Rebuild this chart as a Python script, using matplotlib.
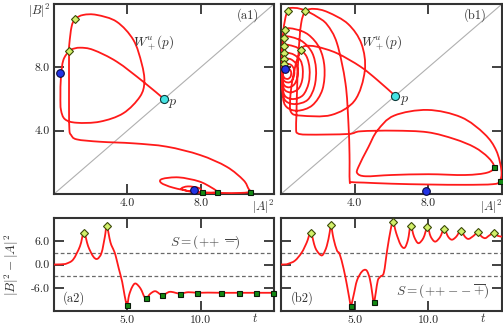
import numpy as np
import matplotlib
matplotlib.use("Agg")
import matplotlib.pyplot as plt
from matplotlib.path import Path
from matplotlib.patches import PathPatch

plt.rcParams['font.family'] = 'cmr10'
plt.rcParams['mathtext.fontset'] = 'cm'
plt.rcParams['axes.unicode_minus'] = False

# ---- (a1) unstable manifold, |A|^2 vs |B|^2
a1_x = [6.0, 4.87, 3.42, 2.14, 1.42, 0.96, 0.82, 0.51, 0.38, 0.35, 0.38, 0.6, 1.24, 2.51,
        3.78, 4.69, 4.93, 4.78, 4.33, 3.42, 2.33, 1.6, 1.15, 0.96, 0.84, 0.82, 0.82, 0.82,
        0.84, 0.93, 1.24, 2.51, 4.33, 6.15, 7.97, 9.42, 10.33, 10.6, 10.7, 10.2, 9.0, 7.6,
        6.5, 5.85, 5.9, 6.8, 7.9, 8.6, 8.87, 8.4, 7.5, 6.95, 7.3, 7.9, 8.06, 7.8, 7.64]
a1_y = [6.0, 7.09, 8.36, 9.10, 9.24, 9.14, 9.03, 8.46, 7.41, 6.15, 5.31, 4.72, 4.5, 4.57,
        5.1, 6.15, 7.09, 8.25, 9.73, 10.88, 11.31, 11.31, 11.05, 10.57, 9.52, 8.9, 6.99, 5.31,
        4.04, 3.73, 3.45, 3.3, 3.2, 2.99, 2.46, 1.72, 0.88, 0.35, 0.14, 0.07, 0.07, 0.15,
        0.4, 0.7, 0.95, 1.05, 0.8, 0.4, 0.14, 0.07, 0.14, 0.33, 0.48, 0.38, 0.14, 0.17, 0.23]
a1_max = [(0.82, 9.03), (1.15, 11.05)]
a1_min = [(10.7, 0.15), (8.87, 0.15), (8.06, 0.15)]
a1_eq = [(0.31, 7.62), (7.64, 0.23)]
a1_p = (6.0, 6.0)

# ---- (b1)
b1_x = [6.2, 5.23, 4.32, 3.04, 1.95, 1.31, 1.1, 0.85, 0.62, 0.5, 0.55, 1.09, 2.73, 4.0,
        4.55, 4.37, 3.64, 2.55, 1.82, 1.33, 1.09, 0.95, 0.87, 0.84, 0.82, 0.91, 1.46, 3.64,
        4.32, 6.14, 7.96, 9.42, 10.51, 11.24, 11.57, 11.2, 10.0, 8.0, 6.0, 4.6, 4.15, 4.2,
        4.74, 5.23, 6.14, 7.96, 9.78, 11.05, 11.69, 11.97, 11.87, 11.5, 10.0, 8.0, 6.0, 4.5,
        3.85, 3.73, 3.72, 3.66, 3.5, 3.04, 2.5, 1.95, 1.3, 0.75, 0.36,
        # spiral towards the left equilibrium
        0.12, 0.08, 0.1, 0.3, 0.9, 1.7, 2.25, 2.36, 2.1, 1.5, 0.8, 0.24,
        0.1, 0.07, 0.1, 0.28, 0.8, 1.45, 1.82, 1.9, 1.7, 1.2, 0.6, 0.18,
        0.08, 0.06, 0.09, 0.25, 0.7, 1.2, 1.5, 1.55, 1.38, 0.95, 0.45, 0.15,
        0.07, 0.06, 0.09, 0.22, 0.55, 0.95, 1.15, 1.18, 1.05, 0.7, 0.35, 0.15,
        0.07, 0.06, 0.1, 0.22, 0.45, 0.72, 0.88, 0.9, 0.8, 0.55, 0.3, 0.15,
        0.08, 0.07, 0.12, 0.25, 0.45, 0.62, 0.72, 0.7, 0.55, 0.3, 0.15,
        0.09, 0.1, 0.2, 0.38, 0.52, 0.55, 0.45, 0.3, 0.22]
b1_y = [6.2, 7.2, 8.04, 8.89, 9.3, 9.35, 9.1, 8.4, 7.2, 6.0, 5.16, 4.95, 4.99, 5.9,
        7.79, 9.48, 10.74, 11.48, 11.69, 11.54, 10.74, 8.84, 6.53, 5.05, 4.1, 3.83, 3.75, 3.79,
        3.96, 4.0, 3.9, 3.47, 2.95, 2.32, 1.72, 1.35, 1.2, 1.25, 1.2, 1.12, 1.3, 1.7,
        2.95, 4.0, 4.95, 5.31, 4.85, 3.79, 2.74, 1.47, 0.8, 0.62, 0.58, 0.6, 0.65, 0.72,
        0.75, 0.84, 2.5, 4.5, 7.0, 9.52, 10.7, 11.2, 11.6, 11.75, 11.58,
        10.2, 8.0, 6.2, 5.5, 5.26, 5.6, 6.6, 8.0, 9.2, 10.05, 10.4, 10.38,
        9.4, 7.8, 6.4, 5.85, 5.68, 5.95, 6.8, 7.9, 8.9, 9.6, 9.9, 9.88,
        9.0, 7.8, 6.7, 6.15, 6.0, 6.25, 7.0, 7.9, 8.7, 9.2, 9.4, 9.37,
        8.7, 7.8, 6.95, 6.55, 6.42, 6.65, 7.2, 7.9, 8.45, 8.8, 8.92, 8.89,
        8.4, 7.8, 7.1, 6.82, 6.74, 6.92, 7.35, 7.85, 8.25, 8.5, 8.56, 8.53,
        8.2, 7.7, 7.25, 7.08, 7.05, 7.2, 7.55, 7.9, 8.15, 8.24, 8.21,
        7.95, 7.55, 7.32, 7.27, 7.42, 7.7, 7.9, 7.95, 7.88]
b1_max = [(1.1, 9.1), (1.33, 11.54), (0.36, 11.58), (0.24, 10.38), (0.18, 9.88),
          (0.15, 9.37), (0.15, 8.89), (0.15, 8.53), (0.15, 8.21)]
b1_min = [(11.57, 1.72), (11.87, 0.8)]
b1_eq = [(0.22, 7.88), (7.9, 0.2)]
b1_p = (6.2, 6.2)

# ---- (a2) time series |B|^2 - |A|^2
a2_t = [0, 0.3, 0.6, 0.86, 1.31, 1.77, 2.04, 2.33, 2.67, 2.95, 3.24, 3.47, 3.6, 3.85, 4.08,
        4.2, 4.42, 4.65, 4.81, 4.98, 5.12, 5.33, 5.56, 5.9, 6.24, 6.58, 6.92, 7.39, 7.9,
        8.57, 9.15, 9.75, 10.5, 11.4, 12.6, 13.8, 15.0]
a2_v = [0, 0.02, 0.08, 0.25, 1.3, 4.7, 8.2, 4.7, 2.1, 1.45, 3.0, 7.2, 9.9, 5.7, 3.6,
        2.3, -1.1, -4.5, -7.9, -10.5, -7.9, -5.8, -4.9, -6.2, -8.7, -7.5, -6.9, -7.9, -7.05,
        -7.5, -7.15, -7.3, -7.25, -7.3, -7.3, -7.3, -7.3]
a2_max = [(2.04, 8.2), (3.6, 9.9)]
a2_min = [(4.98, -10.5), (6.24, -8.7), (7.39, -7.9), (8.57, -7.5), (9.75, -7.3),
          (11.4, -7.3), (12.6, -7.3), (13.8, -7.3), (14.95, -7.3)]

# ---- (b2)
b2_t = [0, 0.3, 0.5, 0.95, 1.41, 1.75, 2.02, 2.32, 2.61, 2.84, 3.11, 3.3, 3.39, 3.57, 3.8,
        3.98, 4.25, 4.48, 4.64, 4.75, 4.93, 5.16, 5.5, 5.8, 6.03, 6.18, 6.3, 6.44, 6.57,
        6.75, 6.98, 7.21, 7.44, 7.6, 7.82, 8.12, 8.39, 8.62, 8.8, 9.03, 9.32, 9.66, 9.94,
        10.16, 10.46, 10.8, 11.07, 11.34, 11.6, 11.9, 12.2, 12.48, 12.73, 13.07, 13.35,
        13.62, 13.87, 14.14, 14.44, 14.71, 15.0]
b2_v = [0, 0.03, 0.2, 1.0, 3.1, 5.7, 8.1, 4.4, 2.7, 2.5, 4.8, 8.2, 10.1, 6.6, 3.6,
        2.7, -1.1, -5.4, -8.8, -10.6, -7.9, -4.1, -1.8, -1.5, -3.7, -7.1, -9.8, -7.1, -4.1,
        -3.1, -2.1, 3.8, 8.9, 11.05, 8.1, 5.1, 4.3, 6.4, 10.0, 7.2, 5.5, 6.8, 9.6,
        7.2, 5.9, 7.1, 9.2, 7.2, 6.4, 7.2, 8.75, 7.2, 6.6, 7.4, 8.3,
        7.2, 6.8, 7.5, 8.1, 7.4, 7.2]
b2_max = [(2.02, 8.1), (3.39, 10.1), (7.6, 11.05), (8.8, 10.0), (9.94, 9.6), (11.07, 9.2),
          (12.2, 8.75), (13.35, 8.3), (14.44, 8.1)]
b2_min = [(4.75, -10.6), (6.3, -9.8)]

dash_levels = [3, -3]
top_ticks = [4, 8]
top_ticklabels = ['4.0', '8.0']
bot_xticks = [5, 10]
bot_xticklabels = ['5.0', '10.0']
bot_yticks = [6, 0, -6]
bot_yticklabels = ['6.0', '0.0', '-6.0']

RED = '#ff1a1a'
SPINE = '#333333'


def smooth_path(xs, ys):
    # Catmull-Rom through the read points, drawn as cubic Bezier segments
    pts = np.column_stack([xs, ys]).astype(float)
    ext = np.vstack([pts[0], pts, pts[-1]])
    verts = [pts[0]]
    codes = [Path.MOVETO]
    for i in range(len(pts) - 1):
        p0, p1, p2, p3 = ext[i], ext[i + 1], ext[i + 2], ext[i + 3]
        verts += [p1 + (p2 - p0) / 6, p2 - (p3 - p1) / 6, p2]
        codes += [Path.CURVE4] * 3
    return Path(verts, codes)


def draw_curve(ax, xs, ys):
    ax.add_patch(PathPatch(smooth_path(xs, ys), fill=False, ec=RED, lw=1.3, zorder=3,
                           capstyle='round', joinstyle='round'))


def markers(ax, pts, kind):
    xs = [p[0] for p in pts]
    ys = [p[1] for p in pts]
    if kind == 'max':
        ax.plot(xs, ys, 'D', ms=3.6, mfc='#d2f06a', mec='#3b4a08', mew=0.8, zorder=6, clip_on=False)
    elif kind == 'min':
        ax.plot(xs, ys, 's', ms=3.6, mfc='#138a13', mec='#0a1a0a', mew=0.8, zorder=6, clip_on=False)
    elif kind == 'eq':
        ax.plot(xs, ys, 'o', ms=5.5, mfc='#2233e6', mec='#0a0a40', mew=0.8, zorder=6, clip_on=False)
    else:
        ax.plot(xs, ys, 'o', ms=5.8, mfc='#45e3e3', mec='#0d3a3a', mew=0.8, zorder=6, clip_on=False)


def style(ax):
    for s in ax.spines.values():
        s.set_color(SPINE)
        s.set_linewidth(1.5)
    ax.tick_params(direction='in', length=7, width=1.3, color=SPINE, top=True, right=True,
                   labelsize=8.5, pad=3, labelcolor='#222222')


fig = plt.figure(figsize=(5.03, 3.24), dpi=100)
W, H = 503.0, 324.0
ax_a1 = fig.add_axes([54 / W, 1 - 194 / H, 220 / W, 190 / H])
ax_b1 = fig.add_axes([281 / W, 1 - 194 / H, 221 / W, 190 / H])
ax_a2 = fig.add_axes([54 / W, 1 - 311 / H, 220 / W, 93 / H])
ax_b2 = fig.add_axes([281 / W, 1 - 311 / H, 221 / W, 93 / H])

#==============================================================================
for ax, xs, ys, mx, mn, eq, p, tag in [
        (ax_a1, a1_x, a1_y, a1_max, a1_min, a1_eq, a1_p, '(a1)'),
        (ax_b1, b1_x, b1_y, b1_max, b1_min, b1_eq, b1_p, '(b1)')]:
    ax.set_xlim(0, 12)
    ax.set_ylim(0, 12)
    ax.axline((0, 0), slope=1, color='#b0b0b0', lw=0.8, zorder=1)
    draw_curve(ax, xs, ys)
    markers(ax, mx, 'max')
    markers(ax, mn, 'min')
    markers(ax, eq, 'eq')
    markers(ax, [p], 'p')
    style(ax)
    ax.set_xticks(top_ticks)
    ax.set_xticklabels(top_ticklabels)
    ax.set_yticks(top_ticks)
    ax.set_yticklabels(top_ticklabels)
    ax.text(10.55, 11.3, tag, ha='center', va='center', fontsize=9, color='#333333')
    ax.text(5.45, 9.5, r'$W_+^u(p)$', ha='center', va='center', fontsize=9.5, color='#333333')
    ax.text(p[0] + 0.5, p[1] - 0.3, r'$p$', ha='center', va='center', fontsize=10, color='#333333')
    ax.annotate(r'$|A|^2$', xy=(11.4, 0), xycoords=('data', 'axes fraction'),
                xytext=(0, -3), textcoords='offset points', ha='center', va='top',
                fontsize=9, color='#333333')

ax_b1.tick_params(labelleft=False)
ax_a1.text(-0.015, 0.965, r'$|B|^2$', transform=ax_a1.transAxes, ha='right', va='center',
           fontsize=9, color='#333333')

#==============================================================================
for ax, ts, vs, mx, mn in [(ax_a2, a2_t, a2_v, a2_max, a2_min),
                           (ax_b2, b2_t, b2_v, b2_max, b2_min)]:
    ax.set_xlim(0, 15)
    ax.set_ylim(-12, 12)
    for lev in dash_levels:
        ax.axhline(lev, color='#6a6a6a', lw=0.9, ls=(0, (3, 2)), zorder=1)
    draw_curve(ax, ts, vs)
    markers(ax, mx, 'max')
    markers(ax, mn, 'min')
    style(ax)
    ax.set_xticks(bot_xticks)
    ax.set_xticklabels(bot_xticklabels)
    ax.set_yticks(bot_yticks)
    ax.set_yticklabels(bot_yticklabels)
    ax.annotate(r'$t$', xy=(13.7, 0), xycoords=('data', 'axes fraction'),
                xytext=(0, -5.5), textcoords='offset points', ha='center', va='center',
                fontsize=9, color='#333333')

ax_b2.tick_params(labelleft=False)
ax_a2.text(10.3, 5.9, r'$S=(+\!+\;\overline{-})$', ha='center', va='center', fontsize=9.5,
           color='#444444')
ax_b2.text(11.0, -7.2, r'$S=(+\!+\!-\!-\overline{+})$', ha='center', va='center', fontsize=9.5,
           color='#444444')
ax_a2.text(1.36, -8.7, '(a2)', ha='center', va='center', fontsize=9, color='#333333')
ax_b2.text(1.41, -8.75, '(b2)', ha='center', va='center', fontsize=9, color='#333333')
fig.text(12 / W, 1 - 265 / H, r'$|B|^2-|A|^2$', rotation=90, ha='center', va='center',
         fontsize=9.5, color='#333333')

fig.savefig('out.png', dpi=100)
